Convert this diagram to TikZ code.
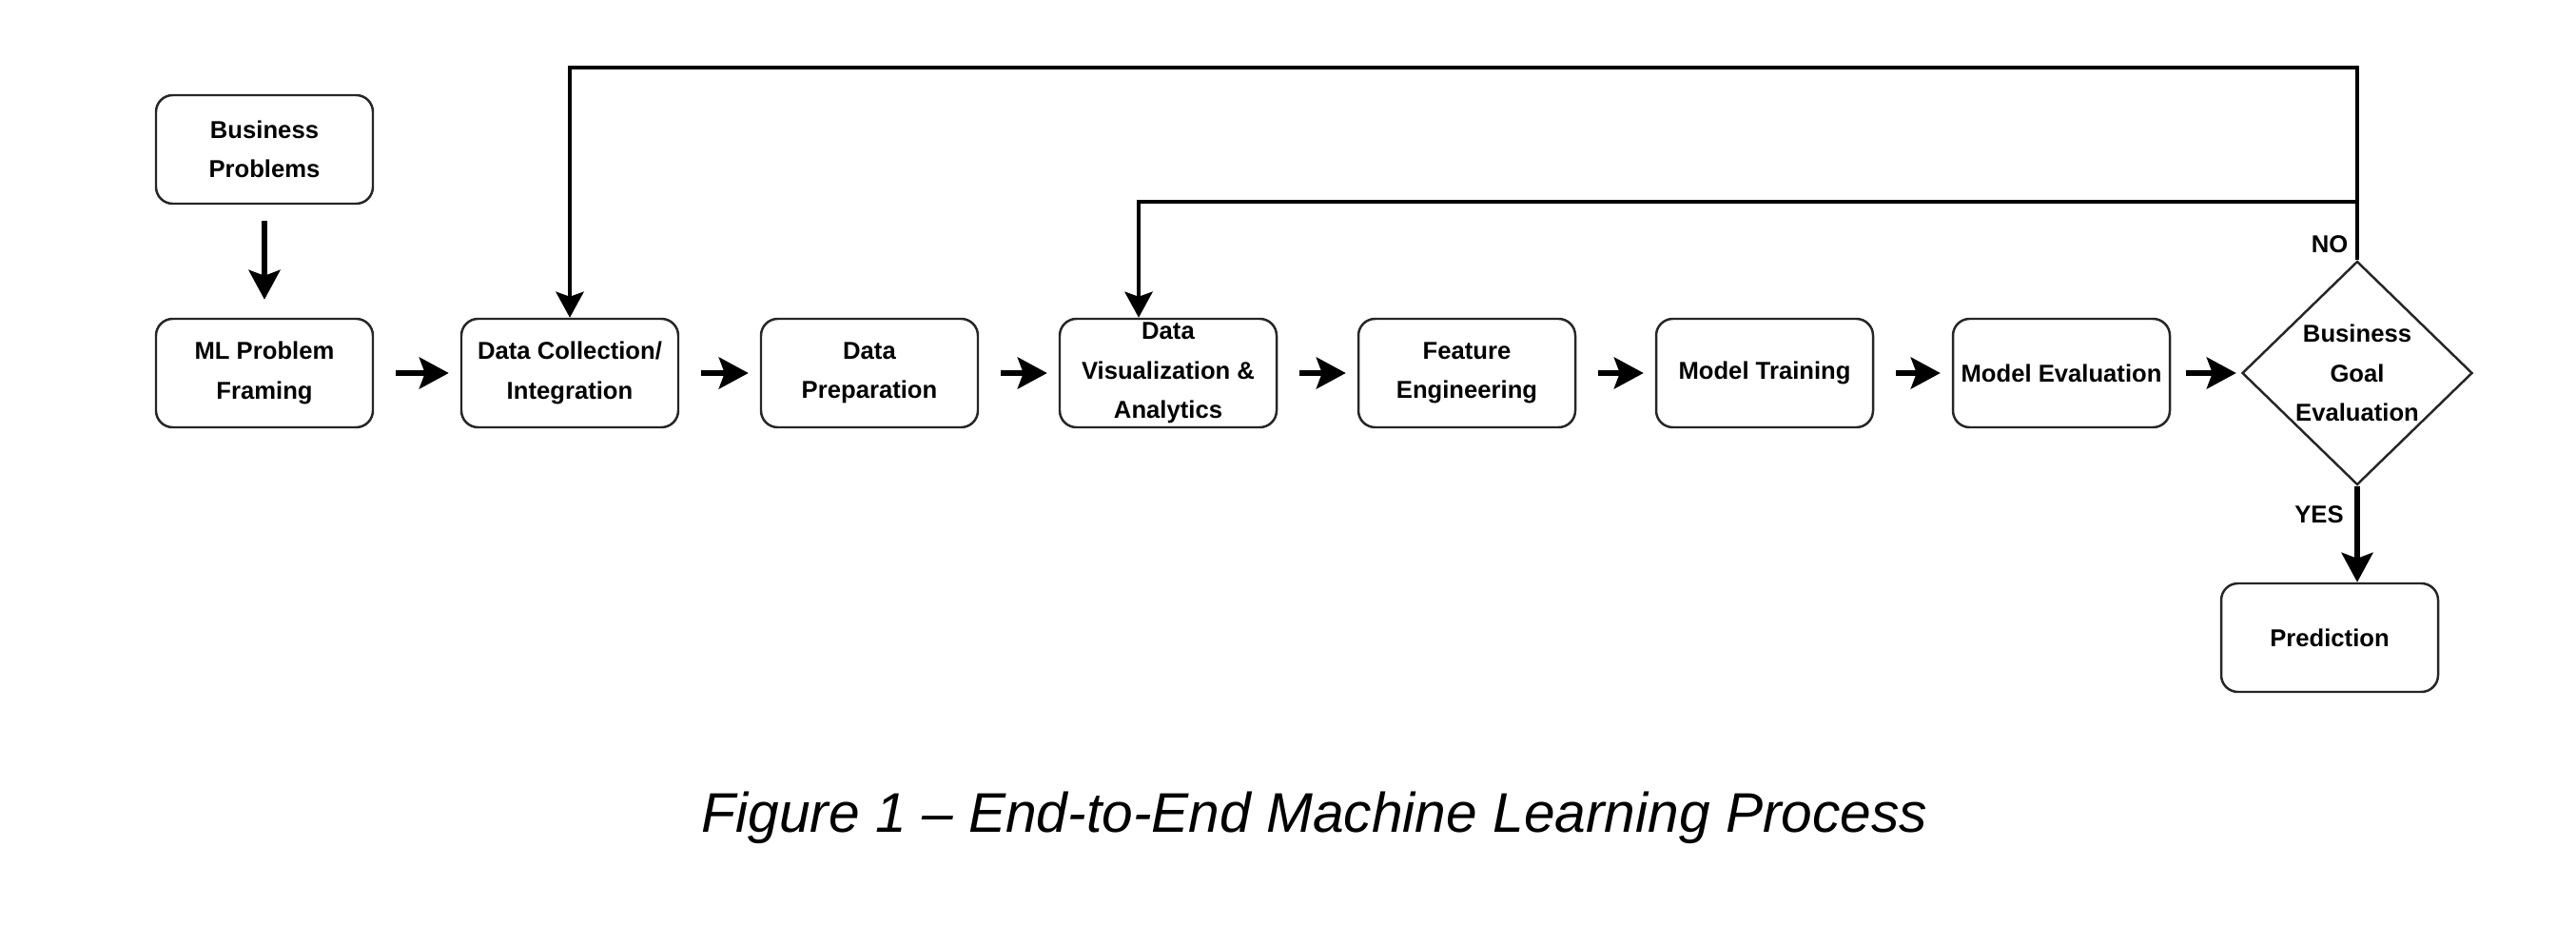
\documentclass[tikz,border=0pt]{standalone}
\usepackage{fontspec}
\setmainfont{Liberation Sans}
\usetikzlibrary{positioning,calc,arrows.meta,shapes.geometric}
\tikzset{
  stepbox/.style={draw=black!85,line width=0.7pt,rounded corners=5pt,fill=white,
    minimum width=2.28cm,minimum height=1.14cm,inner sep=1pt,align=center,
    font=\fontsize{7.3}{11.8}\selectfont\bfseries},
  goalbox/.style={diamond,draw=black!85,line width=0.7pt,aspect=1.03,inner sep=0pt,
    minimum width=2.42cm,minimum height=2.35cm,align=center,
    font=\fontsize{7.3}{11.8}\selectfont\bfseries},
  flow/.style={line width=1.5pt,-{Stealth[length=0.31cm,width=0.33cm,inset=0.06cm]}},
  backflow/.style={line width=1.4pt,-{Stealth[length=0.27cm,width=0.29cm,inset=0.05cm]}},
  answer/.style={font=\fontsize{7.3}{9}\selectfont\bfseries},
  caption/.style={font=\fontsize{16.7}{20}\selectfont\itshape},
}

\begin{document}
\begin{tikzpicture}
\useasboundingbox (0,0) rectangle (27.08,9.72);
\coordinate (c0) at (2.78,8.15);
\coordinate (c1) at (2.78,5.80);
\coordinate (c2) at (5.99,5.80);
\coordinate (c3) at (9.14,5.80);
\coordinate (c4) at (12.28,5.80);
\coordinate (c5) at (15.42,5.80);
\coordinate (c6) at (18.55,5.80);
\coordinate (c7) at (21.67,5.80);
\coordinate (c8) at (24.78,5.80);
\coordinate (c9) at (24.49,3.02);
\coordinate (outer) at (0,9.01);
\coordinate (inner) at (0,7.60);
% boxes
\node[stepbox] (business) at (c0) {Business\\Problems};
\node[stepbox] (frame) at (c1) {ML Problem\\Framing};
\node[stepbox] (collect) at (c2) {Data Collection/\\Integration};
\node[stepbox] (prep) at (c3) {Data\\Preparation};
\node[stepbox] (vis) at (c4) {Data\\Visualization \&\\Analytics};
\node[stepbox] (feat) at (c5) {Feature\\Engineering};
\node[stepbox] (train) at (c6) {Model Training};
\node[stepbox] (evalm) at (c7) {Model Evaluation};
\node[goalbox] (goal) at (c8) {Business\\Goal\\Evaluation};
\node[stepbox] (pred) at (c9) {Prediction};
% main flow
\draw[flow,shorten <=0.17cm,shorten >=0.19cm] (business) -- (frame);
\draw[flow,shorten <=0.23cm,shorten >=0.12cm] (frame) -- (collect);
\draw[flow,shorten <=0.23cm,shorten >=0.12cm] (collect) -- (prep);
\draw[flow,shorten <=0.23cm,shorten >=0.12cm] (prep) -- (vis);
\draw[flow,shorten <=0.23cm,shorten >=0.12cm] (vis) -- (feat);
\draw[flow,shorten <=0.23cm,shorten >=0.12cm] (feat) -- (train);
\draw[flow,shorten <=0.23cm,shorten >=0.12cm] (train) -- (evalm);
\draw[flow,shorten <=0.16cm,shorten >=0.05cm] (evalm) -- (goal);
\draw[flow] (goal.south) -- (goal.south |- pred.north);
% feedback loops
\draw[backflow] (goal.north) -- (goal.north |- outer) -| (collect.north);
\draw[backflow] (goal.north |- inner) -| ([xshift=-0.31cm]vis.north);
\node[answer] (no) at (24.49,7.15) {NO};
\node[answer] (yes) at (24.38,4.31) {YES};
% caption
\node[caption,anchor=base] (title) at (13.82,0.98) {Figure 1 -- End-to-End Machine Learning Process};
\end{tikzpicture}
\end{document}
